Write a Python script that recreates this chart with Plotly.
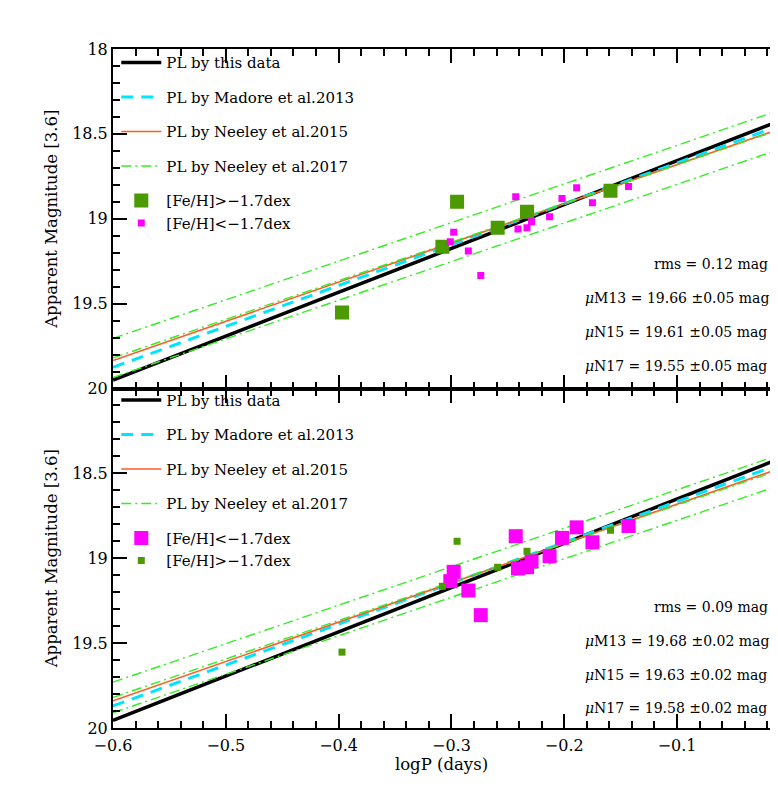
import plotly.graph_objects as go
from plotly.subplots import make_subplots

# stars: [Fe/H] > -1.7 dex (metal-rich) and [Fe/H] < -1.7 dex (metal-poor)
rich_logp = [-0.397, -0.308, -0.295, -0.259, -0.233, -0.159]
rich_mag = [19.553, 19.165, 18.900, 19.053, 18.959, 18.835]

poor_logp = [-0.301, -0.298, -0.285, -0.274, -0.243, -0.241, -0.233,
             -0.229, -0.213, -0.202, -0.189, -0.175, -0.143]
poor_mag = [19.135, 19.080, 19.190, 19.335, 18.870, 19.060, 19.053,
            19.018, 18.988, 18.880, 18.818, 18.906, 18.810]

# PL relations, magnitude at logP = -0.6 and logP = 0
pl_logp = [-0.6, 0.0]
this_top = [19.950, 18.400]
mad_top = [19.875, 18.430]
n15_top = [19.835, 18.450]
n17_top = [19.820, 18.455]
band_top = 0.115

this_bot = [19.955, 18.390]
mad_bot = [19.870, 18.425]
n15_bot = [19.840, 18.450]
n17_bot = [19.820, 18.460]
band_bot = 0.09

stats_top = ["rms = 0.12 mag",
             "<i>μ</i>M13 = 19.66 ±0.05 mag",
             "<i>μ</i>N15 = 19.61 ±0.05 mag",
             "<i>μ</i>N17 = 19.55 ±0.05 mag"]
stats_bot = ["rms = 0.09 mag",
             "<i>μ</i>M13 = 19.68 ±0.02 mag",
             "<i>μ</i>N15 = 19.63 ±0.02 mag",
             "<i>μ</i>N17 = 19.58 ±0.02 mag"]

FONT = "DejaVu Serif"
GREEN = "#4a9a00"
MAGENTA = "#ff00ff"
LIME = "#33ee22"

fig = make_subplots(rows=2, cols=1, shared_xaxes=True, vertical_spacing=0)


def add_panel(row, this, mad, n15, n17, band, big, small, leg):
    # PL lines
    fig.add_trace(go.Scatter(x=pl_logp, y=this, mode='lines', name='PL by this data',
                             line=dict(color='black', width=3.5),
                             legend=leg, legendgroup=f'{leg}a'), row=row, col=1)
    fig.add_trace(go.Scatter(x=pl_logp, y=mad, mode='lines', name='PL by Madore et al.2013',
                             line=dict(color='#00e5ff', width=3, dash='12px,8px'),
                             legend=leg, legendgroup=f'{leg}b'), row=row, col=1)
    fig.add_trace(go.Scatter(x=pl_logp, y=n15, mode='lines', name='PL by Neeley et al.2015',
                             line=dict(color='#ff5a26', width=1.6),
                             legend=leg, legendgroup=f'{leg}c'), row=row, col=1)
    fig.add_trace(go.Scatter(x=pl_logp, y=n17, mode='lines', name='PL by Neeley et al.2017',
                             line=dict(color=LIME, width=1.4, dash='10px,4px,2px,4px'),
                             legend=leg, legendgroup=f'{leg}d'), row=row, col=1)
    for off in (-band, band):
        fig.add_trace(go.Scatter(x=pl_logp, y=[v + off for v in n17], mode='lines',
                                 line=dict(color=LIME, width=1.4, dash='10px,4px,2px,4px'),
                                 showlegend=False, legend=leg), row=row, col=1)
    # stars
    for name, xs, ys, color, size in (big, small):
        fig.add_trace(go.Scatter(x=xs, y=ys, mode='markers', name=name,
                                 marker=dict(symbol='square', size=size, color=color,
                                             line=dict(width=0)),
                                 legend=leg, legendgroup=f'{leg}e'), row=row, col=1)


add_panel(1, this_top, mad_top, n15_top, n17_top, band_top,
          ('[Fe/H]>−1.7dex', rich_logp, rich_mag, GREEN, 14),
          ('[Fe/H]<−1.7dex', poor_logp, poor_mag, MAGENTA, 7), 'legend')
add_panel(2, this_bot, mad_bot, n15_bot, n17_bot, band_bot,
          ('[Fe/H]<−1.7dex', poor_logp, poor_mag, MAGENTA, 14),
          ('[Fe/H]>−1.7dex', rich_logp, rich_mag, GREEN, 7), 'legend2')

# statistics text
stat_y_top = [19.265, 19.465, 19.665, 19.865]
stat_y_bot = [19.285, 19.485, 19.685, 19.882]
stat_x = [-0.122, -0.1835, -0.1835, -0.1835]
for row, texts, ys in ((1, stats_top, stat_y_top), (2, stats_bot, stat_y_bot)):
    for t, xx, yy in zip(texts, stat_x, ys):
        fig.add_annotation(x=xx, y=yy, text=t, showarrow=False, xanchor='left',
                           yanchor='middle', font=dict(family=FONT, size=14, color='black'),
                           row=row, col=1)

legend_style = dict(x=0.005, xanchor='left', yanchor='top', bgcolor='rgba(0,0,0,0)',
                    font=dict(family=FONT, size=15, color='black'),
                    tracegroupgap=12, itemwidth=40)
# page body has an 8px margin: keep the figure inside the 778x807 window
fig.update_layout(
    width=762, height=791,
    margin=dict(l=105, r=0, t=41, b=71),
    plot_bgcolor='white', paper_bgcolor='white',
    font=dict(family=FONT, size=14, color='black'),
    legend=dict(y=1.004, **legend_style),
    legend2=dict(y=0.507, **legend_style),
)

axis_style = dict(showline=True, linecolor='black', linewidth=2, showgrid=False, zeroline=False,
                  ticks='inside', ticklen=14, tickwidth=1.5, tickcolor='black',
                  tickfont=dict(family=FONT, size=16, color='black'))
fig.update_xaxes(range=[-0.6, -0.0176], tick0=-0.6, dtick=0.1, mirror='ticks',
                 minor=dict(tick0=-0.6, dtick=0.02, ticks='inside', ticklen=7,
                            tickwidth=1.5, tickcolor='black'),
                 **axis_style)
fig.update_xaxes(showticklabels=False, row=1, col=1)
fig.update_xaxes(ticklabelstandoff=2, row=2, col=1)
fig.update_xaxes(title=dict(text='logP (days)', font=dict(family=FONT, size=16.5), standoff=4),
                 row=2, col=1)

ymin = dict(tickmode='linear', tick0=18, dtick=0.1, ticks='inside', ticklen=7,
            tickwidth=1.5, tickcolor='black')
fig.update_yaxes(range=[20, 18], minor=ymin, **axis_style)
fig.update_yaxes(tickvals=[18, 18.5, 19, 19.5, 20], ticktext=['18', '18.5', '19', '19.5', '20'],
                 row=1, col=1)
fig.update_yaxes(tickvals=[18, 18.5, 19, 19.5, 20], ticktext=['', '18.5', '19', '19.5', '20'],
                 row=2, col=1)
fig.update_yaxes(title=dict(text='Apparent Magnitude [3.6]', font=dict(family=FONT, size=16.5),
                            standoff=10))

fig.write_html("out.html")
